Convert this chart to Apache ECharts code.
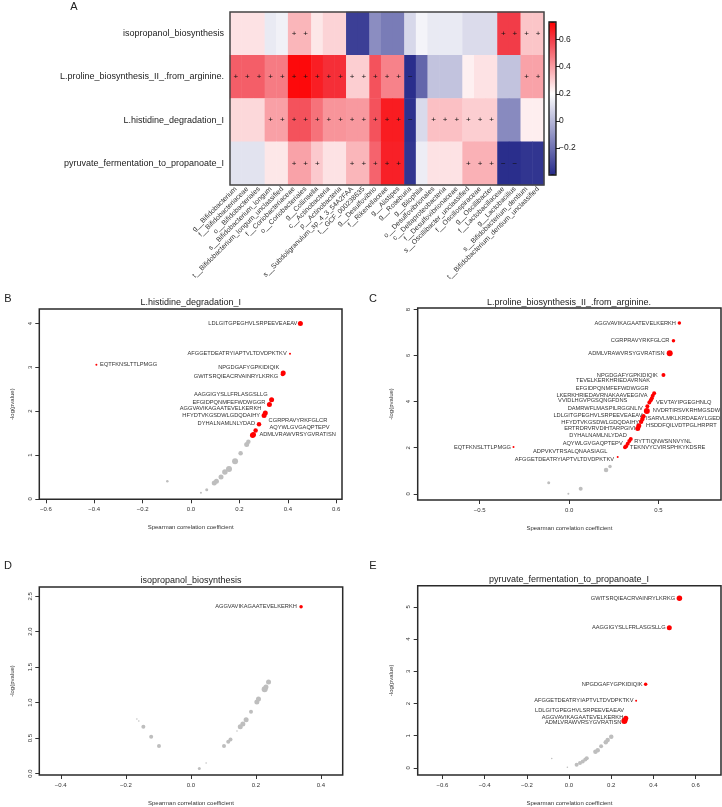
<!DOCTYPE html>
<html><head><meta charset="utf-8">
<script src="https://cdn.jsdelivr.net/npm/echarts@6/dist/echarts.min.js"></script>
<style>html,body{margin:0;padding:0;background:#fff}#c{width:722px;height:807px}</style>
</head><body><div id="c"></div>
<script>
// ---------------- DATA ----------------
const taxa = ['g__Bifidobacterium','f__Bifidobacteriaceae','o__Bifidobacteriales','s__Bifidobacterium_longum','t__Bifidobacterium_longum_unclassified','f__Coriobacteriaceae','o__Coriobacteriales','g__Collinsella','c__Actinobacteria','p__Actinobacteria','s__Subdoligranulum_sp_4_3_54A2FAA','t__GCF_000238635','g__Desulfovibrio','f__Rikenellaceae','g__Alistipes','g__Roseburia','g__Bilophila','o__Desulfovibrionales','c__Deltaproteobacteria','f__Desulfovibrionaceae','s__Oscillibacter_unclassified','f__Oscillospiraceae','g__Oscillibacter','f__Lactobacillaceae','g__Lactobacillus','s__Bifidobacterium_dentium','t__Bifidobacterium_dentium_unclassified'];
const pathways = ['isopropanol_biosynthesis','L.proline_biosynthesis_II_.from_arginine.','L.histidine_degradation_I','pyruvate_fermentation_to_propanoate_I'];
const rhoIsopropanol = [0.26,0.26,0.26,0.14,0.16,0.35,0.35,0.25,0.29,0.29,-0.34,-0.34,-0.12,-0.17,-0.17,0.09,0.17,0.14,0.14,0.14,0.10,0.10,0.10,0.60,0.60,0.32,0.32];
const rhoProline     = [0.53,0.53,0.53,0.47,0.47,0.71,0.71,0.665,0.63,0.63,0.30,0.30,0.555,0.455,0.455,-0.39,-0.23,0.03,0.03,0.03,0.23,0.26,0.26,0.03,0.03,0.39,0.39];
const rhoHistidine   = [0.28,0.28,0.28,0.395,0.395,0.555,0.555,0.49,0.42,0.42,0.41,0.41,0.555,0.67,0.67,-0.38,0.095,0.33,0.33,0.33,0.30,0.30,0.30,-0.13,-0.13,0.235,0.235];
const rhoPyruvate    = [0.12,0.12,0.12,0.25,0.25,0.39,0.39,0.31,0.26,0.26,0.35,0.35,0.52,0.66,0.66,-0.37,0.15,0.26,0.26,0.26,0.36,0.36,0.36,-0.39,-0.39,-0.37,-0.37];
const sigIsopropanol = '.....++................++++';
const sigProline     = '+++++++++++++++-.........++';
const sigHistidine   = '...++++++++++++-.++++++....';
const sigPyruvate    = '.....+++..+++++.....+++--..';
const colorbarTicks = [-0.2, 0, 0.2, 0.4, 0.6];

// Panel B: L.histidine_degradation_I
const hisSigPeptide = ['LDLGITGPEGHVLSRPEEVEAEAV','AFGGETDEATRYIAPTVLTDVDPKTKV','EQTFKNSLTTLPMGG','NPGDGAFYGPKIDIQIK','GWITSRQIEACRVAINRYLKRKG','AAGGIGYSLLFRLASGSLLG','EFGIDPQNMFEFWDWGGR','AGGVAVIKAGAATEVELKERKH','HFYDTVKGSDWLGDQDAIHY','DYHALNAMLNLYDAD','CGRPRAVYRKFGLCR','AQYWLGVGAQPTEPV','ADMLVRAWVRSYGVRATISN'];
const hisSigRho  = [0.452,0.409,-0.391,0.381,0.379,0.333,0.324,0.307,0.302,0.281,0.267,0.258,0.255];
const hisSigLogP = [4.00,3.31,3.06,2.87,2.84,2.26,2.15,1.96,1.90,1.70,1.56,1.47,1.45];
const hisSigSize = [5,2,2,5,4,5,5,5,5,4.5,4.5,5,5.5];
const hisNsRho  = [-0.098,0.041,0.065,0.096,0.105,0.124,0.140,0.157,0.182,0.205,0.230,0.237];
const hisNsLogP = [0.40,0.14,0.21,0.36,0.40,0.50,0.61,0.68,0.86,1.04,1.24,1.30];
const hisNsSize = [2.5,2,3,5,5,5,5.5,6,6,4.5,5,4.5];
const hisXTicks = [-0.6,-0.4,-0.2,0,0.2,0.4,0.6];
const hisYTicks = [0,1,2,3,4];

// Panel C: L.proline_biosynthesis_II_.from_arginine.
const proSigPeptide = ['AGGVAVIKAGAATEVELKERKH','CGRPRAVYRKFGLCR','ADMLVRAWVRSYGVRATISN','NPGDGAFYGPKIDIQIK','TEVELKERKHRIEDAVRNAK','EFGIDPQNMFEFWDWGGR','LKERKHRIEDAVRNAKAAVEEGIVA','VEVTAYIPGEGHNLQ','VVIDLHGVPGSQNGFDNS','DAMRWFLMASPILRGGNLIV','NVDRTIRSVKRHMGSDW','LDLGITGPEGHVLSRPEEVEAEAV','ISARVLMKLKRDAEAYLGED','HFYDTVKGSDWLGDQDAIHY','HSDDFQILVDTPGLHRPRT','ERTRDRVRVDIHTARPGIVI','DYHALNAMLNLYDAD','RYTTIQNWSNNVYNL','AQYWLGVGAQPTEPV','TEKNVYCVIRSPHKYKDSRE','ADPVKVTRSALQNAASIAGL','EQTFKNSLTTLPMGG','AFGGETDEATRYIAPTVLTDVDPKTKV'];
const proSigRho  = [0.617,0.584,0.563,0.528,0.476,0.468,0.463,0.457,0.449,0.438,0.435,0.416,0.410,0.403,0.390,0.384,0.345,0.337,0.328,0.319,0.313,-0.311,0.272];
const proSigLogP = [7.42,6.65,6.10,5.16,4.37,4.26,4.15,4.06,3.96,3.80,3.60,3.37,3.25,3.13,2.96,2.84,2.38,2.29,2.17,2.07,2.02,2.03,1.60];
const proSigSize = [3.5,3.5,6,4,4,4,4,4,4,4,6,4.5,4.5,4.5,5,5,4,4,4,4,4,2,2];
const proNsRho  = [0.229,0.207,-0.114,-0.004,0.065];
const proNsLogP = [1.19,1.03,0.48,0.00,0.22];
const proNsSize = [3.5,4.5,3,2,4];
const proXTicks = [-0.5,0,0.5];
const proYTicks = [0,2,4,6,8];

// Panel D: isopropanol_biosynthesis
const isoSigPeptide = ['AGGVAVIKAGAATEVELKERKH'];
const isoSigRho  = [0.339];
const isoSigLogP = [2.35];
const isoSigSize = [3.5];
const isoNsRho  = [-0.166,-0.160,-0.146,-0.122,-0.098,0.026,0.047,0.102,0.115,0.122,0.142,0.152,0.160,0.170,0.185,0.203,0.208,0.227,0.231,0.239];
const isoNsLogP = [0.77,0.74,0.66,0.52,0.39,0.07,0.15,0.39,0.45,0.48,0.60,0.66,0.70,0.76,0.87,1.01,1.05,1.19,1.22,1.29];
const isoNsSize = [1.5,1.5,4,4,4,3,1.5,4,4,4,1.5,5,5,5,4,5,5,6,5,5];
const isoXTicks = [-0.4,-0.2,0,0.2,0.4];
const isoYTicks = [0,0.5,1,1.5,2,2.5];

// Panel E: pyruvate_fermentation_to_propanoate_I
const pyrSigPeptide = ['GWITSRQIEACRVAINRYLKRKG','AAGGIGYSLLFRLASGSLLG','NPGDGAFYGPKIDIQIK','AFGGETDEATRYIAPTVLTDVDPKTKV','LDLGITGPEGHVLSRPEEVEAEAV','AGGVAVIKAGAATEVELKERKH','ADMLVRAWVRSYGVRATISN'];
const pyrSigRho  = [0.523,0.475,0.363,0.318,0.269,0.265,0.262];
const pyrSigLogP = [5.27,4.35,2.60,2.09,1.54,1.48,1.46];
const pyrSigSize = [5.5,5,3.5,2,5,5,6];
const pyrNsRho  = [-0.082,-0.008,0.036,0.052,0.065,0.077,0.084,0.125,0.136,0.152,0.174,0.183,0.200];
const pyrNsLogP = [0.29,0.02,0.10,0.15,0.20,0.26,0.30,0.50,0.55,0.67,0.80,0.87,0.97];
const pyrNsSize = [1.5,1.5,4,4,4,4,4,4.5,4.5,4,4.5,4.5,4.5];
const pyrXTicks = [-0.6,-0.4,-0.2,0,0.2,0.4,0.6];
const pyrYTicks = [0,1,2,3,4,5];

// ---------------- STYLE (label placement, pixels relative to point) ----------------
const hisLab = [[-3,0,'r'],[-3.3,0,'r'],[3.7,0,'l'],[-4,-5.3,'r'],[-4.6,2,'r'],[-4,-5,'r'],[-4,-2.3,'r'],[-4,-4,'r'],[-4,0.3,'r'],[-4,-0.7,'r'],[13,-10,'l'],[16,-7.3,'l'],[6.7,-1,'l']];
const proLab = [[-3.4,0,'r'],[-4,0,'r'],[-5,0,'r'],[-5.6,0,'r'],[-4,-12.3,'r'],[-4,-7.7,'r'],[-4.4,-3.3,'r'],[5.3,2.4,'l'],[-22,-1.7,'r'],[-4.6,1.7,'r'],[6,-0.7,'l'],[-1,-0.6,'r'],[3.7,-1,'l'],[-2,1,'r'],[7.3,0,'l'],[-2.4,0,'r'],[-4,-3.3,'r'],[5,0,'l'],[-5,-0.4,'r'],[4,1,'l'],[-17.7,4,'r'],[-2.5,0,'r'],[-3.7,2.7,'r']];
const isoLab = [[-4.3,0,'r']];
const pyrLab = [[-4.3,0,'r'],[-3.6,0,'r'],[-3,0,'r'],[-2.7,0,'r'],[-1.7,-8,'r'],[-1.7,-3.3,'r'],[-3,1.7,'r']];

const FONT = '"Liberation Sans", Arial, Helvetica, sans-serif';
const TXT = '#333';

// colour ramp for the heatmap
const stops = [[-0.4,[38,42,138]],[0.2,[255,255,255]],[0.6,[242,60,72]],[0.73,[255,0,0]]];
function colorAt(v){
  for (let i=0;i<stops.length-1;i++){
    const a=stops[i][0], ca=stops[i][1], b=stops[i+1][0], cb=stops[i+1][1];
    if (v<=b+1e-9){ const t=Math.max(0,(v-a)/(b-a)); return 'rgb('+ca.map((c,j)=>Math.round(c+(cb[j]-c)*t)).join(',')+')'; }
  }
  return 'rgb(255,0,0)';
}
const ramp=[]; for(let k=0;k<=113;k++) ramp.push(colorAt(-0.4+k*1.13/113));

const rhoRows=[rhoIsopropanol,rhoProline,rhoHistidine,rhoPyruvate];
const sigRows=[sigIsopropanol,sigProline,sigHistidine,sigPyruvate];
const heatData=[];
rhoRows.forEach((row,r)=>row.forEach((v,c)=>heatData.push([c,r,v,sigRows[r][c]])));

const minus = s => String(s).replace('-', '\u2212');
const fmtInt = v => minus(Math.round(v));
const fmt1 = v => minus((Math.abs(v)<1e-9?0:v).toFixed(1));

const grids = [
  {left:230, top:12, width:314, height:173},
  {left:549, top:22, width:7, height:153},
  {left:39.3, top:309, width:302.7, height:190.3},
  {left:417.7, top:308, width:303.3, height:192},
  {left:39.3, top:587, width:303.4, height:192.3},
  {left:417.7, top:585.7, width:303.3, height:193.6}
].map((g,i)=>Object.assign({show:true, backgroundColor:'transparent', borderColor: i===1?'#111':(i===0?'#444':'#2a2a2a'), borderWidth: i===1?1.3:1.5, z:10}, g));

function xVal(gi,min,max,ticks,fmt){
  return {gridIndex:gi,type:'value',min,max,position:'bottom',axisLine:{show:false,onZero:false},splitLine:{show:false},
    axisTick:{show:true,length:4,customValues:ticks,lineStyle:{color:'#333',width:1}},
    axisLabel:{customValues:ticks,formatter:fmt,fontSize:6,color:TXT,margin:7,fontFamily:FONT},
    name:'Spearman correlation coefficient',nameLocation:'middle',nameGap:25,
    nameTextStyle:{fontSize:6,color:TXT,fontFamily:FONT}};
}
function yVal(gi,min,max,ticks,fmt){
  return {gridIndex:gi,type:'value',min,max,position:'left',axisLine:{show:false,onZero:false},splitLine:{show:false},
    axisTick:{show:true,length:4,customValues:ticks,lineStyle:{color:'#333',width:1}},
    axisLabel:{customValues:ticks,formatter:fmt,fontSize:6,color:TXT,margin:6,rotate:90,fontFamily:FONT},
    name:'-log(pvalue)',nameLocation:'middle',nameGap:23.5,
    nameTextStyle:{fontSize:6,color:TXT,fontFamily:FONT}};
}

function panelSeries(ai, nsX, nsY, nsS, names, sX, sY, sS, lab){
  return [
    {type:'scatter',xAxisIndex:ai,yAxisIndex:ai,silent:true,z:3,
     data:nsX.map((x,i)=>[x,nsY[i],nsS[i]]),symbolSize:v=>v[2],itemStyle:{color:'#bebebe',opacity:1}},
    {type:'scatter',xAxisIndex:ai,yAxisIndex:ai,silent:true,z:4,
     data:names.map((n,i)=>({name:n,value:[sX[i],sY[i],sS[i]],
       label:{show:true,position:'inside',align:lab[i][2]==='r'?'right':'left',verticalAlign:'middle',offset:[lab[i][0],lab[i][1]],formatter:n}})),
     symbolSize:v=>v[2],itemStyle:{color:'#ff0000',opacity:1},
     label:{fontSize:5.7,color:TXT,fontFamily:FONT}}
  ];
}

const texts = [
  ['A',74,7,11,'center'],['B',8,299,11,'center'],['C',373,299,11,'center'],['D',8,566,11,'center'],['E',373,566,11,'center'],
  ['L.histidine_degradation_I',190.7,302.5,9,'center'],
  ['L.proline_biosynthesis_II_.from_arginine.',569,302.5,9,'center'],
  ['isopropanol_biosynthesis',191,581,9,'center'],
  ['pyruvate_fermentation_to_propanoate_I',569,580,9,'center']
].map(t=>({type:'text',x:t[1],y:t[2],style:{text:t[0],fontSize:t[3],fontFamily:FONT,fill:'#222',align:t[4],verticalAlign:'middle'}}));

const option = {
  animation:false,
  backgroundColor:'#fff',
  grid: grids,
  xAxis: [
    {gridIndex:0,type:'category',data:taxa,axisLine:{show:false},axisTick:{show:false},splitLine:{show:false},
     axisLabel:{rotate:45,interval:0,fontSize:7,margin:3,color:TXT,fontFamily:FONT}},
    {gridIndex:1,type:'value',show:false,min:0,max:1},
    xVal(2,-0.627,0.624,hisXTicks,fmt1),
    xVal(3,-0.847,0.85,proXTicks,fmt1),
    xVal(4,-0.466,0.467,isoXTicks,fmt1),
    xVal(5,-0.717,0.72,pyrXTicks,fmt1)
  ],
  yAxis: [
    {gridIndex:0,type:'category',data:pathways,inverse:true,axisLine:{show:false},axisTick:{show:false},splitLine:{show:false},
     axisLabel:{fontSize:9,margin:6,color:'#222',fontFamily:FONT}},
    {gridIndex:1,type:'value',position:'right',min:-0.4,max:0.73,axisLine:{show:false,onZero:false},splitLine:{show:false},
     axisTick:{show:true,length:4,customValues:colorbarTicks,lineStyle:{color:'#222'}},
     axisLabel:{customValues:colorbarTicks,margin:3,fontSize:8.5,color:'#222',fontFamily:FONT,formatter:v=>minus(Math.abs(v)<1e-9?0:+v.toFixed(1))}},
    yVal(2,-0.01,4.33,hisYTicks,fmtInt),
    yVal(3,-0.27,8.07,proYTicks,fmtInt),
    yVal(4,-0.02,2.63,isoYTicks,fmt1),
    yVal(5,-0.22,5.66,pyrYTicks,fmtInt)
  ],
  visualMap: {type:'continuous',seriesIndex:0,dimension:2,min:-0.4,max:0.73,calculable:false,
    left:549,top:22,itemWidth:7,itemHeight:153,padding:0,inRange:{color:ramp}},
  graphic: texts,
  series: [
    {type:'heatmap',xAxisIndex:0,yAxisIndex:0,data:heatData,silent:true,
     itemStyle:{borderWidth:0},
     label:{show:true,fontSize:8,color:'#111',fontFamily:FONT,
       formatter:p=>p.value[3]==='+'?'+':(p.value[3]==='-'?'\u2212':'')}}
  ].concat(
    panelSeries(2,hisNsRho,hisNsLogP,hisNsSize,hisSigPeptide,hisSigRho,hisSigLogP,hisSigSize,hisLab),
    panelSeries(3,proNsRho,proNsLogP,proNsSize,proSigPeptide,proSigRho,proSigLogP,proSigSize,proLab),
    panelSeries(4,isoNsRho,isoNsLogP,isoNsSize,isoSigPeptide,isoSigRho,isoSigLogP,isoSigSize,isoLab),
    panelSeries(5,pyrNsRho,pyrNsLogP,pyrNsSize,pyrSigPeptide,pyrSigRho,pyrSigLogP,pyrSigSize,pyrLab)
  )
};
const chart = echarts.init(document.getElementById('c'), null, {renderer:'canvas'});
chart.setOption(option);
</script>
</body></html>
